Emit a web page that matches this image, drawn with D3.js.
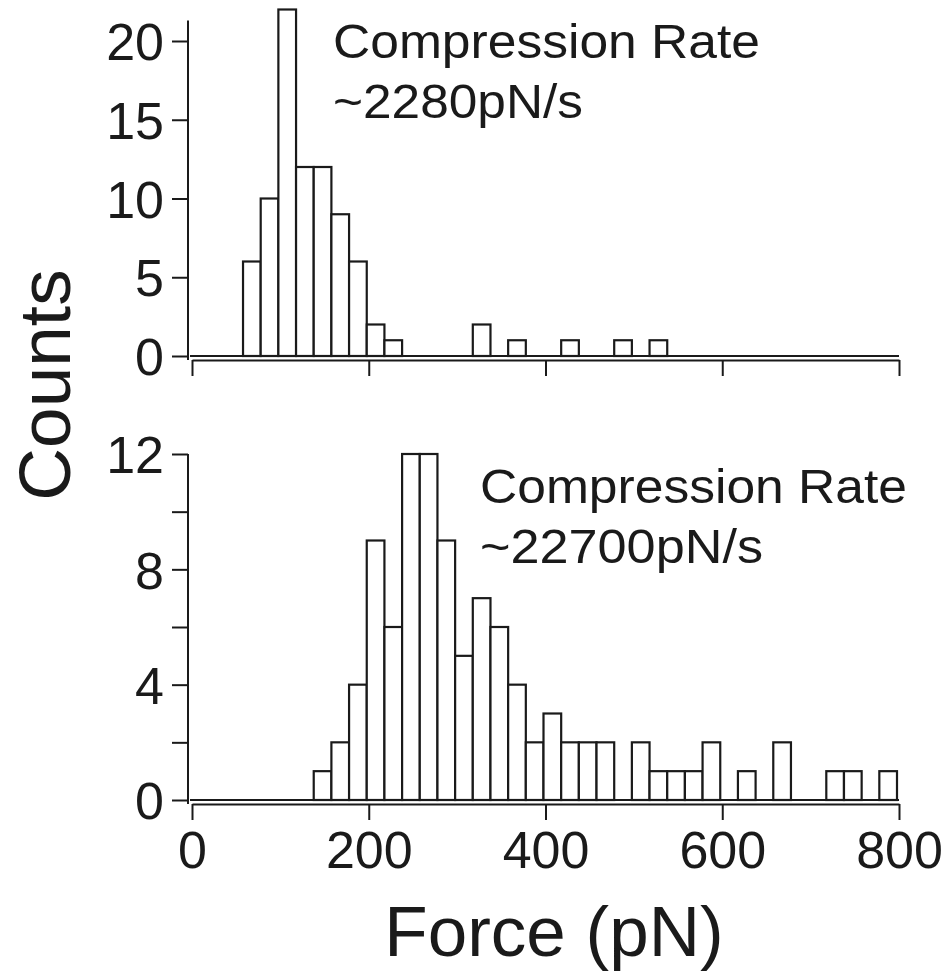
<!DOCTYPE html>
<html>
<head>
<meta charset="utf-8">
<script src="https://cdn.jsdelivr.net/npm/d3@7"></script>
<style>
  html, body { margin: 0; padding: 0; background: #fff; }
  svg { display: block; }
  text { font-family: "Liberation Sans", Arial, Helvetica, sans-serif; fill: #1a1a1a; }
</style>
</head>
<body>
<svg id="chart" width="947" height="976"></svg>
<script>
// ---- data ----
const binWidth = 20;                      // pN
const binStarts = d3.range(0, 800, 20);   // bin left edges (pN)
const topCounts = [0,0,0,6,10,22,12,12,9,6,2,1,0,0,0,0,2,0,1,0,0,1,0,0,1,0,1,0,0,0,0,0,0,0,0,0,0,0,0,0];
const bottomCounts = [0,0,0,0,0,0,0,1,2,4,9,6,12,12,9,5,7,6,4,2,3,2,2,2,0,2,1,1,1,2,0,1,0,2,0,0,1,1,0,1];
const xTicks = [0, 200, 400, 600, 800];
const topYTicks = [0, 5, 10, 15, 20];
const bottomYTicks = [0, 2, 4, 6, 8, 10, 12];
const bottomYLabels = [0, 4, 8, 12];
const topNote = ["Compression Rate", "~2280pN/s"];
const bottomNote = ["Compression Rate", "~22700pN/s"];
const yTitle = "Counts";
const xTitle = "Force (pN)";

// ---- layout ----
const svg = d3.select("#chart");
const ink = "#1a1a1a";
const x = d3.scaleLinear().domain([0, 800]).range([190, 897]);

function panel(counts, yScale, yTicks, yLabels, yTop, showXLabels, note, notePos) {
  const g = svg.append("g");
  const y0 = yScale(0);
  const data = binStarts.map((s, i) => ({ s, c: counts[i] })).filter(d => d.c > 0);
  g.selectAll("rect.bar").data(data).join("rect")
    .attr("class", "bar")
    .attr("x", d => x(d.s))
    .attr("width", d => x(d.s + binWidth) - x(d.s))
    .attr("y", d => yScale(d.c))
    .attr("height", d => y0 - yScale(d.c))
    .attr("fill", "#fff")
    .attr("stroke", ink)
    .attr("stroke-width", 2.2);
  g.append("line")
    .attr("x1", x(0)).attr("x2", x(800) + 2)
    .attr("y1", y0).attr("y2", y0)
    .attr("stroke", ink).attr("stroke-width", 2.2);

  const yAxis = d3.axisLeft(yScale).tickValues(yTicks).tickSize(16).tickSizeOuter(0)
    .tickFormat(d => yLabels.includes(d) ? d : "");
  const ya = g.append("g").attr("transform", "translate(188,0)").call(yAxis);
  ya.select(".domain").remove();
  ya.selectAll(".tick line").attr("stroke", ink).attr("stroke-width", 2);
  ya.selectAll(".tick text").attr("font-size", 52).attr("x", -24).attr("dy", "0.36em")
    .attr("font-family", "Liberation Sans, Arial, sans-serif").attr("fill", ink);
  g.append("line").attr("x1", 188).attr("x2", 188)
    .attr("y1", yTop).attr("y2", y0 + 4)
    .attr("stroke", ink).attr("stroke-width", 2);

  const xAxis = d3.axisBottom(x).tickValues(xTicks).tickSize(16).tickSizeOuter(0)
    .tickFormat(d => showXLabels ? d : "");
  const xa = g.append("g").attr("transform", `translate(2,${y0 + 4})`).call(xAxis);
  xa.select(".domain").attr("stroke", ink).attr("stroke-width", 2);
  xa.selectAll(".tick line").attr("stroke", ink).attr("stroke-width", 2);
  xa.selectAll(".tick text").attr("font-size", 52).attr("y", 64).attr("dy", 0)
    .attr("font-family", "Liberation Sans, Arial, sans-serif").attr("fill", ink);

  g.append("text").attr("x", notePos[0]).attr("y", notePos[1])
    .attr("font-size", 49).attr("textLength", notePos[2]).attr("lengthAdjust", "spacingAndGlyphs")
    .text(note[0]);
  g.append("text").attr("x", notePos[0]).attr("y", notePos[1] + 60)
    .attr("font-size", 49).attr("textLength", notePos[3]).attr("lengthAdjust", "spacingAndGlyphs")
    .text(note[1]);
}

const yTopScale = d3.scaleLinear().domain([0, 20]).range([356, 41]);
const yBotScale = d3.scaleLinear().domain([0, 12]).range([800, 454]);

panel(topCounts, yTopScale, topYTicks, topYTicks, yTopScale(21.3), false, topNote, [333, 58, 427, 250]);
panel(bottomCounts, yBotScale, bottomYTicks, bottomYLabels, yBotScale(12), true, bottomNote, [480, 503, 427, 283]);

svg.append("text").attr("transform", "translate(70,385) rotate(-90)")
  .attr("text-anchor", "middle").attr("font-size", 73).text(yTitle);
svg.append("text").attr("x", 554).attr("y", 956)
  .attr("text-anchor", "middle").attr("font-size", 71).text(xTitle);
</script>
</body>
</html>
